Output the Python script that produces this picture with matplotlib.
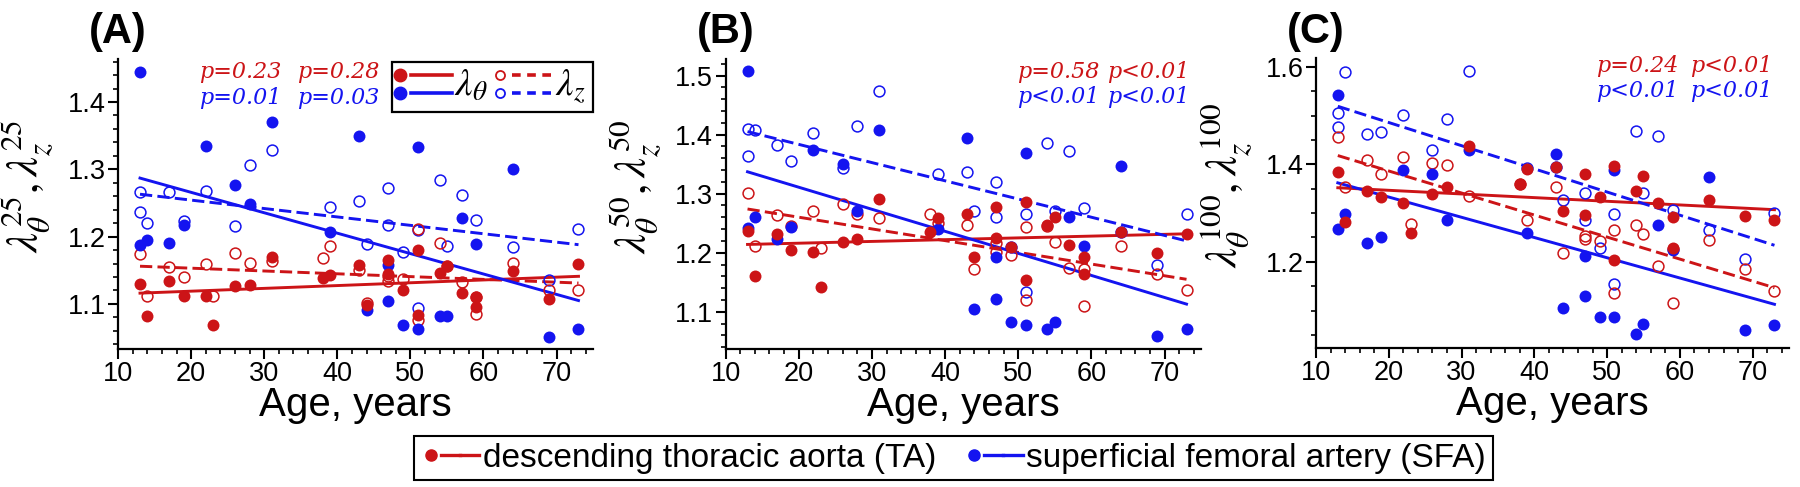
import matplotlib
matplotlib.use('Agg')
import matplotlib.pyplot as plt
from matplotlib.lines import Line2D
from matplotlib.patches import Rectangle
from matplotlib.legend_handler import HandlerTuple
from matplotlib.ticker import MultipleLocator

plt.rcParams['font.family'] = ['Liberation Sans', 'DejaVu Sans']
plt.rcParams['mathtext.fontset'] = 'stix'

RED = '#cc1417'
BLUE = '#1414f0'

# ages of the donors (TA and SFA samples)
age_ta = [13, 14, 17, 19, 22, 23, 26, 28, 31, 38, 39, 43, 44, 47, 47, 49, 51, 51, 54, 55, 57, 59, 59, 64, 69, 73]
age_sfa = [13, 13, 14, 17, 19, 22, 26, 28, 31, 39, 43, 44, 47, 47, 49, 51, 51, 54, 55, 57, 59, 64, 69, 73]

# (A) 25 mmHg
ta_th_25 = [1.129, 1.082, 1.134, 1.112, 1.112, 1.068, 1.126, 1.128, 1.170, 1.138, 1.143, 1.158, 1.099,
            1.165, 1.144, 1.121, 1.180, 1.083, 1.146, 1.156, 1.116, 1.111, 1.096, 1.149, 1.107, 1.160]
ta_z_25 = [1.174, 1.112, 1.155, 1.140, 1.160, 1.112, 1.176, 1.161, 1.164, 1.168, 1.186, 1.150, 1.101,
           1.134, 1.142, 1.137, 1.212, 1.076, 1.191, 1.157, 1.132, 1.085, 1.110, 1.161, 1.120, 1.121]
sfa_th_25 = [1.445, 1.188, 1.195, 1.191, 1.217, 1.335, 1.276, 1.249, 1.370, 1.207, 1.350, 1.091,
             1.104, 1.158, 1.069, 1.333, 1.062, 1.082, 1.082, 1.227, 1.189, 1.301, 1.051, 1.063]
sfa_z_25 = [1.267, 1.237, 1.220, 1.266, 1.223, 1.268, 1.216, 1.306, 1.329, 1.244, 1.253, 1.189,
            1.272, 1.217, 1.177, 1.210, 1.094, 1.284, 1.186, 1.262, 1.224, 1.185, 1.136, 1.212]

# (B) 50 mmHg
ta_th_50 = [1.236, 1.161, 1.231, 1.205, 1.201, 1.142, 1.218, 1.223, 1.291, 1.235, 1.258, 1.266, 1.193,
            1.277, 1.225, 1.210, 1.286, 1.153, 1.247, 1.261, 1.213, 1.193, 1.164, 1.235, 1.200, 1.232]
ta_z_50 = [1.301, 1.212, 1.264, 1.245, 1.270, 1.208, 1.282, 1.266, 1.258, 1.265, 1.250, 1.247, 1.172,
           1.202, 1.217, 1.196, 1.244, 1.120, 1.245, 1.218, 1.174, 1.172, 1.109, 1.211, 1.164, 1.137]
sfa_th_50 = [1.507, 1.241, 1.261, 1.223, 1.243, 1.374, 1.350, 1.270, 1.408, 1.240, 1.394, 1.105,
             1.193, 1.121, 1.083, 1.368, 1.078, 1.070, 1.082, 1.261, 1.211, 1.346, 1.059, 1.071]
sfa_z_50 = [1.409, 1.364, 1.407, 1.382, 1.356, 1.402, 1.344, 1.415, 1.474, 1.333, 1.337, 1.270,
            1.319, 1.261, 1.210, 1.266, 1.133, 1.386, 1.271, 1.373, 1.275, 1.235, 1.179, 1.265]

# (C) 100 mmHg
ta_th_100 = [1.385, 1.282, 1.345, 1.333, 1.320, 1.260, 1.340, 1.353, 1.438, 1.360, 1.390, 1.395, 1.304,
             1.381, 1.297, 1.333, 1.396, 1.203, 1.345, 1.377, 1.321, 1.291, 1.229, 1.327, 1.294, 1.286]
ta_z_100 = [1.457, 1.354, 1.409, 1.380, 1.415, 1.277, 1.402, 1.399, 1.335, 1.360, 1.286, 1.353, 1.219,
            1.253, 1.246, 1.242, 1.266, 1.136, 1.275, 1.258, 1.192, 1.115, 1.227, 1.244, 1.186, 1.140]
sfa_th_100 = [1.543, 1.268, 1.299, 1.239, 1.250, 1.388, 1.381, 1.286, 1.429, 1.260, 1.422, 1.106,
              1.212, 1.130, 1.087, 1.388, 1.086, 1.052, 1.072, 1.276, 1.224, 1.374, 1.061, 1.070]
sfa_z_100 = [1.506, 1.476, 1.589, 1.463, 1.467, 1.501, 1.430, 1.493, 1.592, 1.392, 1.394, 1.327,
             1.342, 1.285, 1.229, 1.299, 1.154, 1.468, 1.342, 1.459, 1.306, 1.265, 1.205, 1.301]

# regression lines, value at first and last age
fit_ages = [13, 73]
fit_25 = {'ta_th': [1.116, 1.141], 'ta_z': [1.156, 1.131], 'sfa_th': [1.287, 1.105], 'sfa_z': [1.263, 1.188]}
fit_50 = {'ta_th': [1.214, 1.232], 'ta_z': [1.274, 1.155], 'sfa_th': [1.337, 1.113], 'sfa_z': [1.405, 1.220]}
fit_100 = {'ta_th': [1.352, 1.307], 'ta_z': [1.418, 1.147], 'sfa_th': [1.362, 1.113], 'sfa_z': [1.519, 1.234]}

p_25 = ['p=0.23', 'p=0.28', 'p=0.01', 'p=0.03']
p_50 = ['p=0.58', 'p<0.01', 'p<0.01', 'p<0.01']
p_100 = ['p=0.24', 'p<0.01', 'p<0.01', 'p<0.01']

panels = [
    dict(tag='(A)', p=25, ta_th=ta_th_25, ta_z=ta_z_25, sfa_th=sfa_th_25, sfa_z=sfa_z_25, fit=fit_25,
         pv=p_25, ylim=(1.033, 1.464), major=0.1, minor=0.02,
         pos=[0.0656, 0.2834, 0.2639, 0.5955], px=(0.17, 0.377), py=(0.956, 0.866)),
    dict(tag='(B)', p=50, ta_th=ta_th_50, ta_z=ta_z_50, sfa_th=sfa_th_50, sfa_z=sfa_z_50, fit=fit_50,
         pv=p_50, ylim=(1.037, 1.528), major=0.1, minor=0.02,
         pos=[0.4031, 0.2834, 0.2642, 0.5955], px=(0.613, 0.802), py=(0.956, 0.869)),
    dict(tag='(C)', p=100, ta_th=ta_th_100, ta_z=ta_z_100, sfa_th=sfa_th_100, sfa_z=sfa_z_100, fit=fit_100,
         pv=p_100, ylim=(1.024, 1.618), major=0.2, minor=0.05,
         pos=[0.7311, 0.286, 0.2628, 0.5949], px=(0.593, 0.791), py=(0.972, 0.885)),
]

fig = plt.figure(figsize=(18, 4.87), dpi=100)
dash = (0, (4.2, 1.8))

for pn in panels:
    ax = fig.add_axes(pn['pos'])
    fit = pn['fit']
    ax.plot(fit_ages, fit['ta_th'], color=RED, lw=2.1, zorder=2)
    ax.plot(fit_ages, fit['ta_z'], color=RED, lw=2.1, ls=dash, zorder=2)
    ax.plot(fit_ages, fit['sfa_th'], color=BLUE, lw=2.1, zorder=2)
    ax.plot(fit_ages, fit['sfa_z'], color=BLUE, lw=2.1, ls=dash, zorder=2)

    ax.plot(age_sfa, pn['sfa_z'], 'o', ms=7.8, mfc='none', mec=BLUE, mew=1.1, zorder=3)
    ax.plot(age_ta, pn['ta_z'], 'o', ms=7.8, mfc='none', mec=RED, mew=1.1, zorder=3)
    ax.plot(age_sfa, pn['sfa_th'], 'o', ms=8.6, color=BLUE, mec='none', zorder=3)
    ax.plot(age_ta, pn['ta_th'], 'o', ms=8.6, color=RED, mec='none', zorder=3)

    ax.set_xlim(10, 75)
    ax.set_ylim(*pn['ylim'])
    ax.set_xticks([10, 20, 30, 40, 50, 60, 70])
    ax.xaxis.set_minor_locator(MultipleLocator(2))
    ax.yaxis.set_major_locator(MultipleLocator(pn['major']))
    ax.yaxis.set_minor_locator(MultipleLocator(pn['minor']))
    ax.tick_params(which='major', length=7, width=1.5, labelsize=19.5, direction='out', pad=2)
    ax.tick_params(which='minor', length=3.6, width=1.2, direction='out')
    for s in ['top', 'right']:
        ax.spines[s].set_visible(False)
    for s in ['left', 'bottom']:
        ax.spines[s].set_linewidth(1.6)

    ax.set_xlabel('Age, years', fontsize=29, labelpad=-1)
    ax.set_ylabel(r'$\lambda_\theta^{%d},\lambda_z^{%d}$' % (pn['p'], pn['p']), fontsize=32, labelpad=4)
    ax.yaxis.set_label_coords(-0.13, 0.56)

    # p-values
    pkw = dict(transform=ax.transAxes, fontsize=16, style='italic', family='DejaVu Serif', va='center')
    x1, x2 = pn['px']
    y1, y2 = pn['py']
    ax.text(x1, y1, pn['pv'][0], color=RED, **pkw)
    ax.text(x2, y1, pn['pv'][1], color=RED, **pkw)
    ax.text(x1, y2, pn['pv'][2], color=BLUE, **pkw)
    ax.text(x2, y2, pn['pv'][3], color=BLUE, **pkw)

    fig.text(pn['pos'][0] - 0.016, 0.935, pn['tag'], fontsize=30, fontweight='bold', va='center', ha='left')

    if pn['tag'] == '(A)':
        # inset key for lambda_theta / lambda_z
        tr = ax.transAxes
        ax.add_patch(Rectangle((0.576, 0.818), 0.424, 0.172, transform=tr, fill=False, lw=1.6,
                               ec='black', clip_on=False, zorder=5))
        for yy, col in [(0.945, RED), (0.882, BLUE)]:
            ax.plot([0.594], [yy], 'o', ms=9, color=col, transform=tr, clip_on=False, zorder=6)
            ax.plot([0.617, 0.703], [yy, yy], color=col, lw=2.6, transform=tr, clip_on=False, zorder=6)
            ax.plot([0.805], [yy], 'o', ms=6.5, mfc='white', mec=col, mew=1.3, transform=tr, clip_on=False, zorder=6)
            ax.plot([0.829, 0.913], [yy, yy], color=col, lw=2.6, ls=(0, (2.4, 1.8)), transform=tr,
                    clip_on=False, zorder=6)
        ax.text(0.708, 0.872, r'$\lambda_\theta$', fontsize=28, transform=tr, va='baseline', ha='left', zorder=6)
        ax.text(0.920, 0.872, r'$\lambda_z$', fontsize=28, transform=tr, va='baseline', ha='left', zorder=6)

h_ta = (Line2D([], [], marker='o', ls='none', color=RED, ms=8),
        Line2D([], [], color=RED, lw=2.4), Line2D([], [], color=RED, lw=2.4))
h_sfa = (Line2D([], [], marker='o', ls='none', color=BLUE, ms=8),
         Line2D([], [], color=BLUE, lw=2.4), Line2D([], [], color=BLUE, lw=2.4))
leg = fig.legend([h_ta, h_sfa], ['descending thoracic aorta (TA)', 'superficial femoral artery (SFA)'],
                 handler_map={tuple: HandlerTuple(ndivide=None, pad=0.0)},
                 loc='center', bbox_to_anchor=(0.5297, 0.0595), ncol=2, fontsize=24,
                 handlelength=1.75, handletextpad=0.1, columnspacing=0.85, borderpad=0.2,
                 borderaxespad=0, fancybox=False, edgecolor='black', framealpha=1)
leg.get_frame().set_linewidth(1.5)

fig.savefig('out.png', dpi=100)
